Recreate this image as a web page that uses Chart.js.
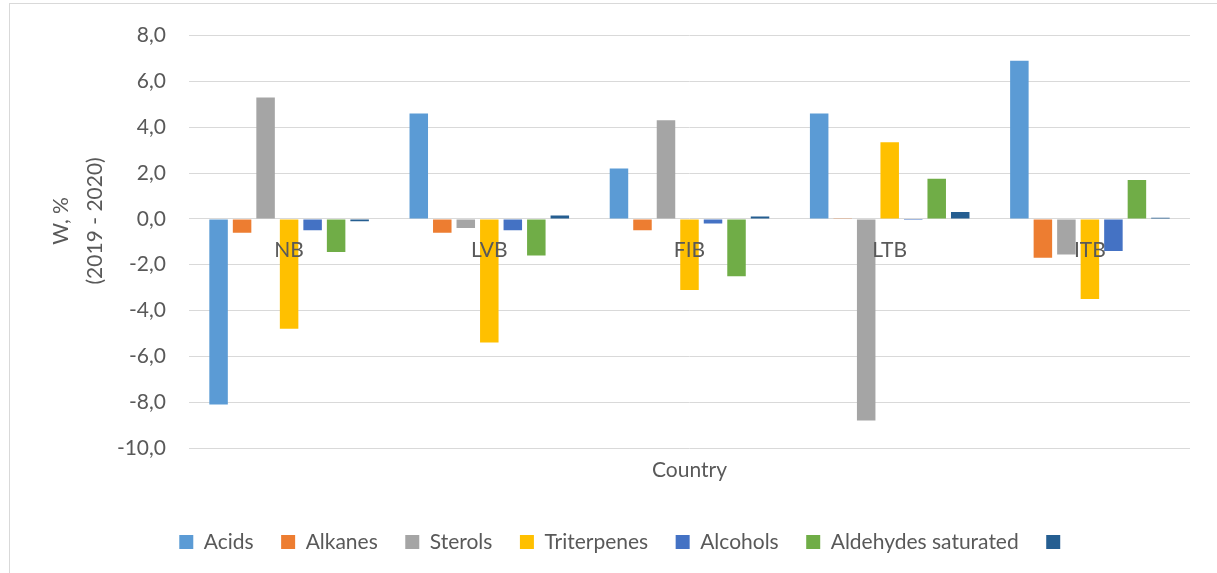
<!DOCTYPE html>
<html>
<head>
<meta charset="utf-8">
<title>W, % (2019 - 2020)</title>
<script src="https://cdn.jsdelivr.net/npm/chart.js"></script>
<style>
  html, body { margin: 0; padding: 0; background: #fff; overflow: hidden; }
  #wrap { position: relative; width: 1217px; height: 573px; }
  #frame { position: absolute; left: 9px; top: 3px; width: 1240px; height: 600px; border: 1px solid #d9d9d9; }
  #chart { position: absolute; left: 0; top: 0; }
</style>
</head>
<body>
<div id="wrap">
  <div id="frame"></div>
  <canvas id="chart" width="1217" height="573"></canvas>
</div>
<script>
// change in composition between 2019 and 2020, per country
const countries = ["NB", "LVB", "FIB", "LTB", "ITB"];

const acids       = [-8.1,  4.6,  2.2,  4.6,  6.9];
const alkanes     = [-0.6, -0.6, -0.5,  0.03, -1.7];
const sterols     = [ 5.3, -0.4,  4.3, -8.8, -1.55];
const triterpenes = [-4.8, -5.4, -3.1,  3.35, -3.5];
const alcohols    = [-0.5, -0.5, -0.2, -0.05, -1.4];
const aldehydes   = [-1.45, -1.6, -2.5, 1.75,  1.7];
const other       = [-0.1,  0.15, 0.1,  0.3,   0.05];

const seriesNames  = ["Acids", "Alkanes", "Sterols", "Triterpenes", "Alcohols", "Aldehydes saturated", ""];
const seriesValues = [acids, alkanes, sterols, triterpenes, alcohols, aldehydes, other];
const seriesColors = ["#5b9bd5", "#ed7d31", "#a5a5a5", "#ffc000", "#4472c4", "#70ad47", "#255e91"];

const yMin = -10, yMax = 8, yStep = 2;

const FONT = "Lato, 'Open Sans', sans-serif";
const TEXT = "#595959";

// category names sit just under the zero line, axis titles drawn by hand
const axisText = {
  id: "axisText",
  afterDraw(chart) {
    const { ctx, chartArea, scales } = chart;
    const y0 = scales.y.getPixelForValue(0);
    ctx.save();
    ctx.fillStyle = TEXT;
    ctx.font = `21px ${FONT}`;
    ctx.textAlign = "center";
    ctx.textBaseline = "middle";
    countries.forEach((c, i) => ctx.fillText(c, scales.x.getPixelForValue(i), y0 + 31));
    ctx.fillText("Country", (chartArea.left + chartArea.right) / 2, 470);
    ctx.translate(78, y0 + 2);
    ctx.rotate(-Math.PI / 2);
    ctx.fillText("W, %", 0, -17);
    ctx.fillText("(2019 - 2020)", 0, 17);
    ctx.restore();
  }
};

const datasets = seriesNames.map((name, i) => ({
  label: name,
  data: seriesValues[i],
  backgroundColor: seriesColors[i],
  borderWidth: 0,
  categoryPercentage: 0.822,
  barPercentage: 0.787
}));

new Chart(document.getElementById("chart"), {
  type: "bar",
  data: { labels: countries, datasets },
  plugins: [axisText],
  options: {
    responsive: false,
    devicePixelRatio: 1,
    animation: false,
    layout: { padding: { left: 60, right: 27, top: 34, bottom: 10.5 } },
    plugins: {
      tooltip: { enabled: false },
      legend: {
        position: "bottom",
        labels: {
          boxWidth: 14,
          boxHeight: 14,
          padding: 27.5,
          color: TEXT,
          font: { family: FONT, size: 21 }
        }
      }
    },
    scales: {
      x: {
        ticks: { display: false },
        grid: { display: false },
        border: { display: false },
        afterFit: s => { s.height = 56; }
      },
      y: {
        min: yMin,
        max: yMax,
        ticks: {
          stepSize: yStep,
          padding: 23,
          color: TEXT,
          font: { family: FONT, size: 21 },
          callback: v => v.toFixed(1).replace(".", ",")
        },
        grid: { color: "#d9d9d9", lineWidth: 1, drawTicks: false },
        border: { display: false },
        afterFit: s => { s.width = 129; }
      }
    }
  }
});
</script>
</body>
</html>
